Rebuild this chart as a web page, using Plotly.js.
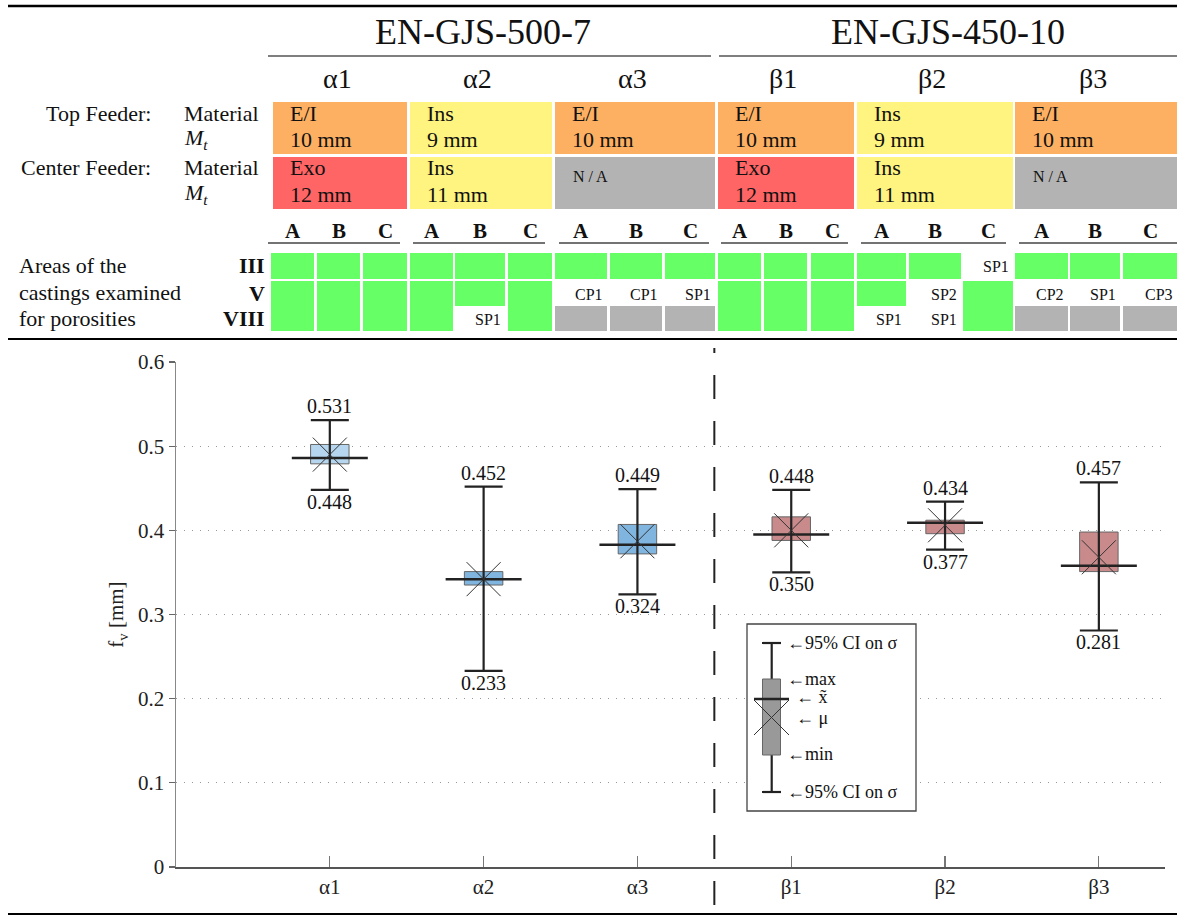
<!DOCTYPE html>
<html><head><meta charset="utf-8">
<script src="https://cdn.plot.ly/plotly-3.0.1.min.js"></script>
<style>html,body{margin:0;padding:0;background:#fff}#chart{width:1177px;height:916px}</style>
</head><body><div id="chart"></div>
<script>
// ---------------- DATA ----------------
const categories = ['α1','α2','α3','β1','β2','β3'];
const groupNames = ['EN-GJS-500-7','EN-GJS-450-10'];
const groupSizes = [3, 3];
const ciHigh = [0.531, 0.452, 0.449, 0.448, 0.434, 0.457];
const ciLow  = [0.448, 0.233, 0.324, 0.350, 0.377, 0.281];
const boxMax = [0.502, 0.351, 0.407, 0.416, 0.412, 0.398];
const boxMin = [0.479, 0.335, 0.372, 0.388, 0.396, 0.351];
const median = [0.486, 0.342, 0.383, 0.395, 0.409, 0.358];
const mean   = [0.490, 0.342, 0.387, 0.400, 0.406, 0.368];
const yTicks = [0, 0.1, 0.2, 0.3, 0.4, 0.5, 0.6];

const topMaterial    = ['E/I','Ins','E/I','E/I','Ins','E/I'];
const topMt          = ['10 mm','9 mm','10 mm','10 mm','9 mm','10 mm'];
const centerMaterial = ['Exo','Ins','N/A','Exo','Ins','N/A'];
const centerMt       = ['12 mm','11 mm','','12 mm','11 mm',''];
const areaCols = ['A','B','C'];
const areaRowNames = ['III','V','VIII'];
const areaIII  = ['ok','ok','ok', 'ok','ok','ok', 'ok','ok','ok', 'ok','ok','ok', 'ok','ok','SP1', 'ok','ok','ok'];
const areaV    = ['ok','ok','ok', 'ok','ok','ok', 'CP1','CP1','SP1', 'ok','ok','ok', 'ok','SP2','ok', 'CP2','SP1','CP3'];
const areaVIII = ['ok','ok','ok', 'ok','SP1','ok', 'n/a','n/a','n/a', 'ok','ok','ok', 'SP1','SP1','ok', 'n/a','n/a','n/a'];
const keyLabels = ['←95% CI on σ','←max','← x̃','← μ','←min','←95% CI on σ'];

// ---------------- STYLE / LAYOUT CONSTANTS ----------------
const W = 1177, H = 916;
const PX = v => v / W, PY = v => 1 - v / H;
const SERIF = '"Liberation Serif", "Times New Roman", serif';
const boxColors = ['#b5d6ee', '#7fb5de', '#7fb5de', '#c98a8c', '#c98a8c', '#c98a8c'];
const matColor = {'E/I': '#fdb062', 'Ins': '#fff47f', 'Exo': '#ff6565', 'N/A': '#b3b3b3'};
const GREEN = '#66ff66', GREY = '#b3b3b3';
const colX = [[273,407],[410,552],[555,715],[718,854],[857,1013],[1015,1177]];
const subX = [[271,314],[317,360],[363,407],[410,453],[455,505],[508,552],[555,607],[610,662],[665,715],
              [718,761],[764,807],[811,854],[857,906],[909,961],[963,1013],[1015,1068],[1070,1120],[1123,1177]];
const groupRule = [[268,711],[719,1177]];
const groupTitleX = [483, 948];
const abcRule = [[268,400],[413,545],[559,709],[721,848],[861,1006],[1019,1177]];
const areaRowY = [[253,279],[281,306],[306,331]];

const shapes = [], annotations = [];
function rect(x0,y0,x1,y1,fill,line){shapes.push({type:'rect',xref:'paper',yref:'paper',x0:PX(x0),x1:PX(x1),y0:PY(y1),y1:PY(y0),fillcolor:fill,line:line||{width:0},layer:'above'});}
function hline(x0,x1,y,w,c){shapes.push({type:'line',xref:'paper',yref:'paper',x0:PX(x0),x1:PX(x1),y0:PY(y),y1:PY(y),line:{color:c||'#000',width:w},layer:'above'});}
function vline(x,y0,y1,w,c){shapes.push({type:'line',xref:'paper',yref:'paper',x0:PX(x),x1:PX(x),y0:PY(y0),y1:PY(y1),line:{color:c||'#000',width:w},layer:'above'});}
function txt(text,x,y,size,anchor,extra){annotations.push(Object.assign({text:text,x:PX(x),y:PY(y),xref:'paper',yref:'paper',showarrow:false,xanchor:anchor||'center',yanchor:'middle',borderpad:0,font:{family:SERIF,size:size,color:'#111'}},extra||{}));}

// ---------------- TABLE ----------------
hline(8,1177,6,2.5,'#000');
groupNames.forEach((g,i)=>{ txt(g, groupTitleX[i], 32, 36); hline(groupRule[i][0],groupRule[i][1],56,1.3,'#555'); });
categories.forEach((c,i)=>{ txt(c, (colX[i][0]+colX[i][1])/2 - 3, 78, 28); });

txt('Top Feeder:', 152, 113, 22, 'right');
txt('Center Feeder:', 152, 168, 22, 'right');
txt('Material', 183, 113, 22, 'left'); txt('<i>M</i><sub><i>t</i></sub>', 183, 139, 22, 'left');
txt('Material', 183, 168, 22, 'left'); txt('<i>M</i><sub><i>t</i></sub>', 183, 194, 22, 'left');

function feederRow(mats, mts, y0, y1){
  mats.forEach((m,i)=>{
    rect(colX[i][0], y0, colX[i][1], y1, matColor[m]);
    if (m === 'N/A') { txt('N / A', colX[i][0]+17, y0+20, 16, 'left'); }
    else { txt(m, colX[i][0]+16, y0+11, 22, 'left'); txt(mts[i], colX[i][0]+16, y0+37, 22, 'left'); }
  });
}
feederRow(topMaterial, topMt, 102, 154);
feederRow(centerMaterial, centerMt, 157, 209);

// A B C header
subX.forEach((s,j)=>{ txt('<b>'+areaCols[j%3]+'</b>', (s[0]+s[1])/2, 231, 21); });
abcRule.forEach(r=>hline(r[0], r[1], 243, 1.3, '#444'));

txt('Areas of the', 18, 266, 22, 'left');
txt('castings examined', 18, 293, 22, 'left');
txt('for porosities', 18, 319, 22, 'left');
areaRowNames.forEach((r,k)=>{ txt('<b>'+r+'</b>', 266, (areaRowY[k][0]+areaRowY[k][1])/2, 22, 'right'); });

[areaIII, areaV, areaVIII].forEach((row,k)=>{
  row.forEach((v,j)=>{
    const [x0,x1] = subX[j], [y0,y1] = areaRowY[k];
    if (v === 'ok') rect(x0,y0,x1,y1,GREEN);
    else if (v === 'n/a') rect(x0,y0,x1,y1,GREY);
    else txt(v, x1-3, (y0+y1)/2+1, 16, 'right');
  });
});
hline(8,1177,339,2.2,'#000');
hline(8,1177,914,2.2,'#000');

// ---------------- KEY (legend glyph) ----------------
rect(747,624,916,811,'#ffffff',{color:'#444',width:1.3});
vline(771.7,643,792,2.2,'#222');
hline(762,781,643,2.2,'#222'); hline(762,781,792,2.2,'#222');
rect(762.5,679,780.5,755,'#999999',{color:'#666',width:1});
hline(754,789,699,2.5,'#222');
shapes.push({type:'line',xref:'paper',yref:'paper',x0:PX(754),x1:PX(789),y0:PY(700),y1:PY(735),line:{color:'#333',width:1},layer:'above'});
shapes.push({type:'line',xref:'paper',yref:'paper',x0:PX(754),x1:PX(789),y0:PY(735),y1:PY(700),line:{color:'#333',width:1},layer:'above'});
const keyY = [643, 679, 697, 718, 754, 792];
const keyTX = [786, 786, 795, 795, 786, 786];
keyLabels.forEach((t,i)=>txt(t, keyTX[i], keyY[i], 18, 'left'));

// ---------------- PLOT ----------------
const xs = categories.map((_,i)=>i);
const splitX = groupSizes[0] - 0.5;
shapes.push({type:'line',xref:'x',yref:'paper',x0:splitX,x1:splitX,y0:PY(905),y1:PY(348),line:{color:'#222',width:2,dash:'24px,22px'},layer:'above'});

// value labels at the CI ends
xs.forEach(i=>{
  annotations.push({xref:'x',yref:'y',x:i,y:ciHigh[i],text:ciHigh[i].toFixed(3),showarrow:false,xanchor:'center',yanchor:'bottom',yshift:2,borderpad:0,font:{family:SERIF,size:20,color:'#111'}});
  annotations.push({xref:'x',yref:'y',x:i,y:ciLow[i],text:ciLow[i].toFixed(3),showarrow:false,xanchor:'center',yanchor:'top',yshift:0,borderpad:0,font:{family:SERIF,size:20,color:'#111'}});
});

const traces = [
  {type:'bar', x:xs, base:boxMin, y:boxMax.map((v,i)=>v-boxMin[i]), width:0.25,
   marker:{color:boxColors, line:{color:'#666', width:1}}, hoverinfo:'skip'},
  {type:'scatter', mode:'markers', x:xs, y:median, marker:{size:1, color:'rgba(0,0,0,0)'},
   error_y:{type:'data', symmetric:false, array:ciHigh.map((v,i)=>v-median[i]), arrayminus:median.map((v,i)=>v-ciLow[i]), color:'#222', thickness:2.2, width:19},
   error_x:{type:'constant', value:0.247, color:'#222', thickness:2.5, width:0}, hoverinfo:'skip'},
  {type:'scatter', mode:'markers', x:xs, y:mean, marker:{symbol:'x-thin-open', size:34, color:'#333', line:{width:1, color:'#333'}}, hoverinfo:'skip'}
];

const layout = {
  width:W, height:H, margin:{l:0,r:0,t:0,b:0}, showlegend:false, hovermode:false,
  paper_bgcolor:'#fff', plot_bgcolor:'#fff',
  xaxis:{domain:[PX(176),PX(1165)], range:[-1,5.43], tickmode:'array', tickvals:xs, ticktext:categories,
         ticks:'inside', ticklen:11, tickcolor:'#777', tickwidth:1.2, showline:true, linecolor:'#555', linewidth:1.5,
         showgrid:false, zeroline:false, tickfont:{family:SERIF, size:21, color:'#222'}, fixedrange:true},
  yaxis:{domain:[PY(867),PY(362)], range:[0,0.6], tickmode:'array', tickvals:yTicks, ticktext:yTicks.map(String),
         ticks:'outside', ticklen:6, tickcolor:'#666', tickwidth:1.3, showline:true, linecolor:'#888', linewidth:1.5,
         showgrid:true, gridcolor:'#999', gridwidth:1.2, griddash:'1px,7px', zeroline:false,
         tickfont:{family:SERIF, size:21, color:'#222'}, fixedrange:true,
         title:{text:'f<sub>v</sub> [mm]', font:{family:SERIF, size:21, color:'#222'}, standoff:8}},
  shapes:shapes, annotations:annotations
};
Plotly.newPlot('chart', traces, layout, {displayModeBar:false, staticPlot:true});
</script>
</body></html>
